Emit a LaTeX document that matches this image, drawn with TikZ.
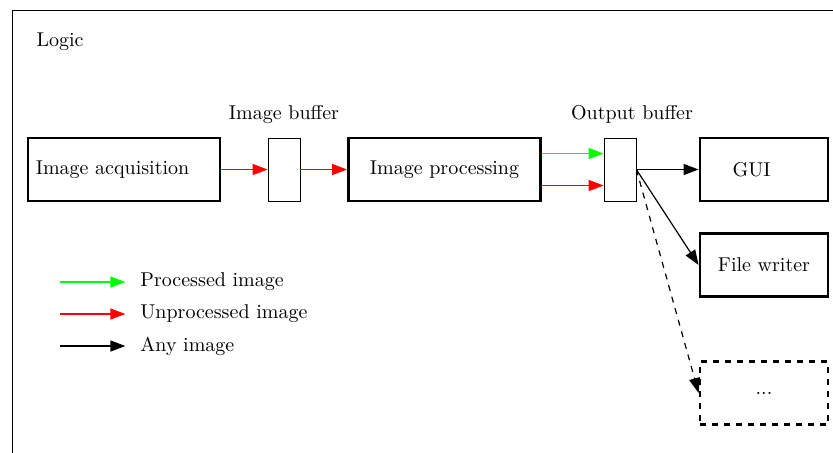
\documentclass[tikz,border=0pt]{standalone}
\usetikzlibrary{positioning,arrows.meta}
\begin{document}
\begin{tikzpicture}[
  block/.style={draw, line width=1.4pt, minimum width=96pt, minimum height=31.5pt},
  sink/.style={block, minimum width=64pt},
  buffer/.style={draw, minimum width=16pt, minimum height=31.5pt},
  flow/.style={line width=0.6pt, -{Triangle[length=7.5pt,width=5.5pt]}},
  processed/.style={flow, green},
  unprocessed/.style={flow, red},
  anyimage/.style={flow, black}]

\newcommand\Row{-84.75pt}
\newcommand\Key{30pt}

\useasboundingbox (0,0) rectangle (416.5pt,-226pt);
\draw (6pt,-5pt) rectangle (440pt,-240pt); %% frame, cut by the page
\node (logic) at (30pt,-21pt) {Logic};

\node[block] (acq) at (62pt,\Row) {Image acquisition\hspace*{11.5pt}};
\node[buffer] (ibuf) at (142pt,\Row) {};
\node[block] (proc) at (222.25pt,\Row) {Image processing};
\node[buffer] (obuf) at (310pt,\Row) {};
\node[sink] (gui) at (382pt,\Row) {GUI\hspace*{12.5pt}};
\node[sink] (fw) at (382pt,-132.5pt) {File writer};
\node[sink, dashed] (more) at (382pt,-196.5pt) {...};

\node[above=3.5pt of ibuf] (ibl) {Image buffer};
\node[above=3.5pt of obuf, xshift=6pt] (obl) {Output buffer};

\draw[unprocessed] (acq) -- (ibuf);
\draw[unprocessed] (ibuf) -- (proc);
\draw[processed] ([yshift=8pt]proc.east) -- ([yshift=8pt]obuf.west);
\draw[unprocessed] ([yshift=-8pt]proc.east) -- ([yshift=-8pt]obuf.west);
\draw[anyimage] (obuf.east) -- (gui);
\draw[anyimage] (obuf.east) -- (fw.west);
\draw[anyimage, dashed] (obuf.east) -- (more.west);

%% legend
\coordinate (k1) at (\Key,-141pt);
\coordinate (k2) at (\Key,-157pt);
\coordinate (k3) at (\Key,-173pt);
\node[anchor=west] (t1) at (66.7pt,-141pt) {Processed image};
\node[anchor=west] (t2) at (66.7pt,-157pt) {Unprocessed image};
\node[anchor=west] (t3) at (66.7pt,-173pt) {Any image};
\draw[processed, shorten >=4pt] (k1) -- (t1.west);
\draw[unprocessed, shorten >=4pt] (k2) -- (t2.west);
\draw[anyimage, shorten >=4pt] (k3) -- (t3.west);

\end{tikzpicture}
\end{document}
